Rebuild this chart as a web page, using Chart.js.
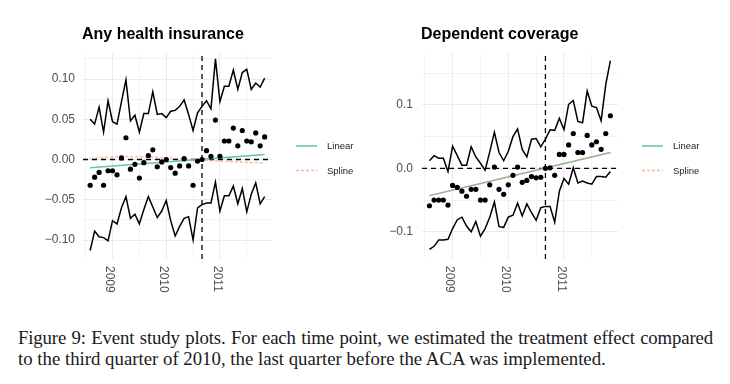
<!DOCTYPE html>
<html>
<head>
<meta charset="utf-8">
<script src="https://cdn.jsdelivr.net/npm/chart.js@4/dist/chart.umd.min.js"></script>
<style>
body { margin: 0; background: #fff; width: 730px; height: 384px; overflow: hidden; position: relative; }
canvas { position: absolute; top: 0; }
#anyChart { left: 0; }
#depChart { left: 365px; }
.cap { position: absolute; left: 18px; font-family: "Liberation Serif", serif; font-size: 18.8px; line-height: 21px; color: #1a1a1a; }
#cap1 { top: 327px; width: 695px; letter-spacing: -0.15px; text-align: justify; text-align-last: justify; }
#cap2 { top: 348px; white-space: nowrap; }
</style>
</head>
<body>
<canvas id="anyChart" width="365" height="305"></canvas>
<canvas id="depChart" width="365" height="305"></canvas>
<div class="cap" id="cap1">Figure 9: Event study plots. For each time point, we estimated the treatment effect compared</div>
<div class="cap" id="cap2">to the third quarter of 2010, the last quarter before the ACA was implemented.</div>
<script>
// months of the event study (one estimate per month)
const months = [
    '2008-08', '2008-09', '2008-10', '2008-11', '2008-12',
    '2009-01', '2009-02', '2009-03', '2009-04', '2009-05', '2009-06', '2009-07', '2009-08', '2009-09', '2009-10', '2009-11', '2009-12',
    '2010-01', '2010-02', '2010-03', '2010-04', '2010-05', '2010-06', '2010-07', '2010-08', '2010-09', '2010-10', '2010-11', '2010-12',
    '2011-01', '2011-02', '2011-03', '2011-04', '2011-05', '2011-06', '2011-07', '2011-08', '2011-09', '2011-10', '2011-11'
];
const refMonth = '2010-09';

// Any health insurance
const anyEst = [-0.032, -0.022, -0.016, -0.032, -0.014, -0.014, -0.019, 0.002, 0.027, -0.012,
    -0.006, -0.023, -0.004, 0.005, 0.012, -0.009, -0.003, 0.000, -0.010, -0.017,
    -0.008, 0.001, -0.008, -0.032, -0.002, 0.000, 0.011, 0.004, 0.049, 0.004,
    0.023, 0.023, 0.039, 0.017, 0.036, 0.023, 0.022, 0.033, 0.017, 0.028];
const anyUpper = [0.050, 0.044, 0.065, 0.034, 0.073, 0.047, 0.044, 0.072, 0.099, 0.048,
    0.055, 0.034, 0.057, 0.057, 0.084, 0.056, 0.057, 0.052, 0.060, 0.061,
    0.066, 0.074, 0.056, 0.036, 0.058, 0.066, 0.073, 0.063, 0.125, 0.072,
    0.091, 0.091, 0.111, 0.087, 0.108, 0.112, 0.087, 0.095, 0.090, 0.101];
const anyLower = [-0.113, -0.089, -0.096, -0.097, -0.101, -0.076, -0.080, -0.060, -0.046, -0.073,
    -0.068, -0.080, -0.062, -0.046, -0.059, -0.072, -0.064, -0.051, -0.076, -0.095,
    -0.083, -0.073, -0.071, -0.100, -0.060, -0.056, -0.054, -0.054, -0.028, -0.064,
    -0.045, -0.045, -0.033, -0.055, -0.036, -0.065, -0.043, -0.029, -0.055, -0.046];
const anyLinear = [-0.0103, 0.0062]; // at first and last month
const splineMonths = ['2008-08', '2009-03', '2009-10', '2010-06', '2011-01', '2011-11'];
const anySpline = [0.0015, 0.0035, 0.003, 0.0005, -0.002, -0.0045];

// Dependent coverage
const depEst = [-0.059, -0.050, -0.050, -0.050, -0.058, -0.027, -0.030, -0.036, -0.044, -0.033,
    -0.033, -0.050, -0.050, -0.026, 0.002, -0.033, -0.041, -0.026, -0.011, 0.002,
    -0.022, -0.019, -0.013, -0.015, -0.014, 0.000, 0.001, -0.011, 0.022, 0.022,
    0.037, 0.055, 0.025, 0.025, 0.052, 0.037, 0.042, 0.030, 0.055, 0.083];
const depUpper = [0.012, 0.020, 0.016, 0.016, -0.005, 0.035, 0.020, 0.005, 0.005, 0.034,
    0.018, 0.008, -0.003, 0.026, 0.057, 0.025, 0.012, 0.027, 0.050, 0.062,
    0.030, 0.018, 0.046, 0.047, 0.034, 0.046, 0.061, 0.060, 0.079, 0.061,
    0.101, 0.107, 0.074, 0.072, 0.122, 0.098, 0.096, 0.075, 0.132, 0.170];
const depLower = [-0.128, -0.123, -0.113, -0.113, -0.112, -0.095, -0.081, -0.077, -0.091, -0.100,
    -0.084, -0.107, -0.095, -0.077, -0.053, -0.092, -0.093, -0.077, -0.074, -0.055,
    -0.075, -0.056, -0.070, -0.082, -0.062, -0.060, -0.060, -0.085, -0.036, -0.016,
    -0.025, 0.001, -0.023, -0.020, -0.023, -0.025, -0.013, -0.013, -0.014, -0.005];
const depLinear = [-0.043, 0.025];
const depSpline = [-0.043, -0.031, -0.019, -0.005, 0.0075, 0.025];

const TEAL = '#66c2a5';
const SALMON = 'rgba(252, 141, 98, 0.65)';

function toYear(m) {
    const parts = m.split('-').map(Number);
    return parts[0] + (parts[1] - 1) / 12;
}

function pairs(labels, values) {
    return values.map((v, i) => ({ x: toYear(labels[i]), y: v }));
}

function fmtTick(v, digits) {
    return v.toFixed(digits).replace('-', '\u2212');
}

// title, rotated year labels and the legend are drawn here
const panelDecor = {
    id: 'panelDecor',
    afterDraw(chart, args, opts) {
        const ctx = chart.ctx;
        const area = chart.chartArea;
        const xs = chart.scales.x;
        ctx.save();
        ctx.font = 'bold 16px "Liberation Sans"';
        ctx.fillStyle = '#000';
        ctx.textAlign = 'left';
        ctx.textBaseline = 'alphabetic';
        ctx.fillText(opts.title, area.left - 1, 38.5);

        ctx.font = '12px "Liberation Sans"';
        ctx.fillStyle = '#4d4d4d';
        xs.ticks.forEach(t => {
            if (Math.abs(t.value - Math.round(t.value)) > 1e-6) return;
            const px = xs.getPixelForValue(t.value);
            ctx.save();
            ctx.translate(px - 3, area.bottom + 7);
            ctx.rotate(Math.PI / 2);
            ctx.textAlign = 'left';
            ctx.textBaseline = 'middle';
            ctx.fillText(String(Math.round(t.value)), 0, 0);
            ctx.restore();
        });

        // legend
        const lx = area.right + 24;
        ctx.lineWidth = 1.5;
        ctx.strokeStyle = TEAL;
        ctx.beginPath();
        ctx.moveTo(lx, 146); ctx.lineTo(lx + 21, 146);
        ctx.stroke();
        ctx.strokeStyle = SALMON;
        ctx.setLineDash([3, 2]);
        ctx.beginPath();
        ctx.moveTo(lx, 170.5); ctx.lineTo(lx + 21, 170.5);
        ctx.stroke();
        ctx.setLineDash([]);
        ctx.font = '9.5px "Liberation Sans"';
        ctx.fillStyle = '#222';
        ctx.textBaseline = 'middle';
        ctx.fillText('Linear', lx + 31, 146);
        ctx.fillText('Spline', lx + 31, 171);
        ctx.restore();
    }
};

function makePanel(id, p) {
    const xMin = 2008.45, xMax = 2011.97;
    const ref = toYear(refMonth);
    const first = toYear(months[0]), last = toYear(months[months.length - 1]);
    return new Chart(document.getElementById(id), {
        type: 'scatter',
        data: {
            datasets: [
                { data: pairs(months, p.est), showLine: false, pointRadius: 2.6, backgroundColor: '#000', borderWidth: 0, order: 0 },
                { data: pairs(splineMonths, p.spline), showLine: true, pointRadius: 0, borderColor: SALMON, borderWidth: 1.3, borderDash: [3, 2], tension: 0.4, order: 1 },
                { data: [{ x: first, y: p.linear[0] }, { x: last, y: p.linear[1] }], showLine: true, pointRadius: 0, borderColor: TEAL, borderWidth: 1.4, order: 2 },
                { data: pairs(months, p.upper), showLine: true, pointRadius: 0, borderColor: '#000', borderWidth: 1.5, order: 3 },
                { data: pairs(months, p.lower), showLine: true, pointRadius: 0, borderColor: '#000', borderWidth: 1.5, order: 3 },
                { data: [{ x: xMin, y: 0 }, { x: xMax, y: 0 }], showLine: true, pointRadius: 0, borderColor: '#000', borderWidth: 1.3, borderDash: [5, 4], order: 4 },
                { data: [{ x: ref, y: p.yMin }, { x: ref, y: p.yMax }], showLine: true, pointRadius: 0, borderColor: '#000', borderWidth: 1.3, borderDash: [5, 4], order: 4 }
            ]
        },
        options: {
            responsive: false,
            animation: false,
            events: [],
            layout: { padding: p.padding },
            plugins: {
                legend: { display: false },
                tooltip: { enabled: false },
                panelDecor: { title: p.title }
            },
            scales: {
                x: {
                    type: 'linear', min: xMin, max: xMax,
                    afterFit: s => { s.height = 0; },
                    border: { display: false },
                    grid: { color: '#ebebeb', drawTicks: false, lineWidth: c => Math.abs(c.tick.value - Math.round(c.tick.value)) < 1e-6 ? 1 : 0.6 },
                    ticks: { display: false, stepSize: 0.5, includeBounds: false }
                },
                y: {
                    min: p.yMin, max: p.yMax,
                    afterFit: s => { s.width = p.yWidth; },
                    border: { display: false },
                    grid: { color: '#ebebeb', drawTicks: false, lineWidth: c => Math.abs(c.tick.value / p.major - Math.round(c.tick.value / p.major)) < 1e-6 ? 1 : 0.6 },
                    ticks: {
                        stepSize: p.major / 2, includeBounds: false, autoSkip: false, padding: p.tickPad,
                        color: '#4d4d4d', font: { family: 'Liberation Sans', size: 12 },
                        callback: v => Math.abs(v / p.major - Math.round(v / p.major)) < 1e-6 ? fmtTick(v, p.digits) : ''
                    }
                }
            }
        },
        plugins: [panelDecor]
    });
}

makePanel('anyChart', {
    title: 'Any health insurance', est: anyEst, upper: anyUpper, lower: anyLower,
    linear: anyLinear, spline: anySpline,
    yMin: -0.1236, yMax: 0.1323, major: 0.05, digits: 2,
    yWidth: 50, tickPad: 8, padding: { left: 33, top: 53, right: 93, bottom: 46 }
});

makePanel('depChart', {
    title: 'Dependent coverage', est: depEst, upper: depUpper, lower: depLower,
    linear: depLinear, spline: depSpline,
    yMin: -0.143, yMax: 0.182, major: 0.1, digits: 1,
    yWidth: 45, tickPad: 9, padding: { left: 12, top: 53, right: 112, bottom: 46 }
});
</script>
</body>
</html>
